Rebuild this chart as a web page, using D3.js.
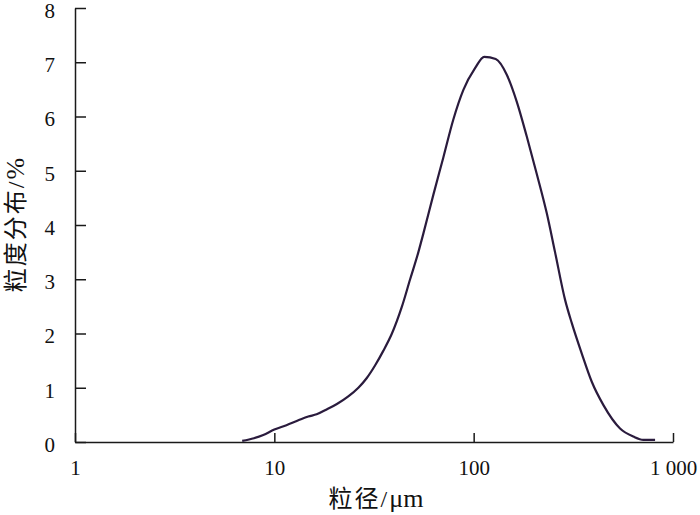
<!DOCTYPE html>
<meta charset="utf-8">
<script src="https://d3js.org/d3.v7.min.js"></script>
<style>
body { margin: 0; background: #fff; }
.axis path, .axis line { stroke: #1a1a1a; stroke-width: 1.5; fill: none; }
.axis text { font-family: "Liberation Serif", "Times New Roman", serif; font-size: 21px; fill: #111; }
.title { font-family: "Liberation Serif", "Noto Sans CJK SC", serif; font-size: 24px; fill: #111; }
.title .cjk { letter-spacing: 2px; }
.title .unit { font-size: 26px; }
</style>
<body>
<script>
// particle size (um) and distribution (%)
var sizes = [6.9, 7.9, 8.8, 10, 11.5, 13.2, 14.8, 16.3, 18.3, 20.6, 23.5, 26.4, 29.1, 32, 35.2, 38.8, 43.6, 48, 52.8,
             56, 62.8, 70.5, 79, 88.8, 101.6, 113, 129, 146.6, 164.6, 184.7, 207, 232.6, 256, 287.5, 310.7, 348.6,
             391.3, 447.7, 542.5, 632.7, 710, 813];
var dist = [0.02, 0.07, 0.13, 0.23, 0.31, 0.40, 0.47, 0.51, 0.60, 0.70, 0.84, 1.0, 1.18, 1.41, 1.68, 1.99, 2.49, 3.0, 3.5,
            3.85, 4.56, 5.25, 5.94, 6.49, 6.89, 7.10, 7.06, 6.77, 6.27, 5.63, 4.95, 4.22, 3.50, 2.62, 2.19, 1.63,
            1.11, 0.68, 0.25, 0.10, 0.04, 0.04];
var xTicks = [1, 10, 100, 1000];
var xTickLabels = ["1", "10", "100", "1 000"];
var yTicks = [0, 1, 2, 3, 4, 5, 6, 7, 8];

var width = 700, height = 515;
var svg = d3.select("body").append("svg")
    .attr("width", width)
    .attr("height", height);

var x = d3.scaleLog().domain([1, 1000]).range([75, 673]);
var y = d3.scaleLinear().domain([0, 8]).range([442, 8]);

svg.append("g")
    .attr("class", "axis")
    .attr("transform", "translate(0,442)")
    .call(d3.axisBottom(x)
        .tickValues(xTicks)
        .tickFormat(function(d, i) { return xTickLabels[i]; })
        .tickSizeInner(-9)
        .tickSizeOuter(0)
        .tickPadding(18));

var yAxis = svg.append("g")
    .attr("class", "axis")
    .attr("transform", "translate(75,0)")
    .call(d3.axisLeft(y)
        .tickValues(yTicks)
        .tickFormat(d3.format("d"))
        .tickSizeInner(-11)
        .tickSizeOuter(0)
        .tickPadding(20));
yAxis.selectAll("text").attr("dy", "0.45em");

var line = d3.line()
    .x(function(d, i) { return x(sizes[i]); })
    .y(function(d) { return y(d); })
    .curve(d3.curveMonotoneX);

svg.append("path")
    .datum(dist)
    .attr("d", line)
    .attr("fill", "none")
    .attr("stroke", "#2a1b3d")
    .attr("stroke-width", 2.2);

var xt = svg.append("text")
    .attr("class", "title")
    .attr("x", 376)
    .attr("y", 507)
    .attr("text-anchor", "middle");
xt.append("tspan").attr("class", "cjk").text("粒径/");
xt.append("tspan").attr("class", "unit").text("μm");

var yt = svg.append("text")
    .attr("class", "title")
    .attr("transform", "translate(24,225) rotate(-90)")
    .attr("text-anchor", "middle");
yt.append("tspan").attr("class", "cjk").text("粒度分布/");
yt.append("tspan").attr("class", "unit").text("%");
</script>
</body>
